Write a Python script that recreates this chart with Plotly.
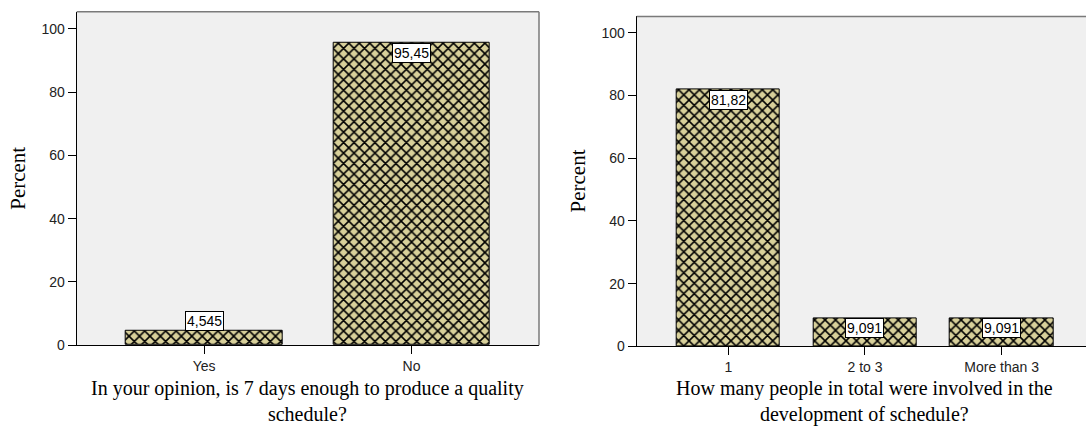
import plotly.graph_objects as go

# ---- data ----
q1_categories = ["Yes", "No"]
q1_percent = [4.545, 95.45]
q1_labels = ["4,545", "95,45"]
q1_title = "In your opinion, is 7 days enough to produce a quality<br>schedule?"

q2_categories = ["1", "2 to 3", "More than 3"]
q2_percent = [81.82, 9.091, 9.091]
q2_labels = ["81,82", "9,091", "9,091"]
q2_title = "How many people in total were involved in the<br>development of schedule?"

y_ticks = [0, 20, 40, 60, 80, 100]
y_title = "Percent"

# ---- styling ----
W, H = 1086, 434
SANS = "Liberation Sans, Arial, sans-serif"
SERIF = "Liberation Serif, Times New Roman, serif"
TAN = "#D8D09A"
PLOT_BG = "#F0F0F0"
BAR_W = 0.755

def px_x(p):
    return p / W

def px_y(p):
    return (H - p) / H

fig = go.Figure()

def add_bars(cats, vals, xa, ya):
    fig.add_trace(go.Bar(
        x=list(range(len(cats))), y=vals, width=BAR_W,
        xaxis=xa, yaxis=ya,
        marker=dict(color=TAN,
                    line=dict(color="black", width=1),
                    pattern=dict(shape="x", fgcolor="black", bgcolor=TAN,
                                 size=7.4, solidity=0.38, fillmode="replace")),
        hoverinfo="skip", showlegend=False))

add_bars(q1_categories, q1_percent, "x", "y")
add_bars(q2_categories, q2_percent, "x2", "y2")

axis_common = dict(showgrid=False, zeroline=False, showline=True, linecolor="black",
                   linewidth=1, ticks="outside", ticklen=8, tickcolor="black",
                   tickfont=dict(family=SANS, size=14, color="#222222"))

fig.update_layout(
    width=W, height=H,
    margin=dict(l=0, r=0, t=0, b=0),
    paper_bgcolor="white", plot_bgcolor=PLOT_BG,
    bargap=0,
    xaxis=dict(domain=[px_x(76.7), px_x(539)], range=[-0.615, 1.615],
               tickmode="array", tickvals=list(range(len(q1_categories))),
               ticktext=q1_categories, anchor="y", **axis_common),
    yaxis=dict(domain=[px_y(351.7), px_y(12)], range=[0, 105.37],
               tickmode="array", tickvals=y_ticks, anchor="x", **axis_common),
    xaxis2=dict(domain=[px_x(636.7), 1.0], range=[-0.67, 2.617],
                tickmode="array", tickvals=list(range(len(q2_categories))),
                ticktext=q2_categories, anchor="y2", **axis_common),
    yaxis2=dict(domain=[px_y(353), px_y(16.7)], range=[0, 105.2],
                tickmode="array", tickvals=y_ticks, anchor="x2", **axis_common),
)

# frame: top and right borders (gray)
shapes = [
    dict(type="line", xref="x domain", yref="y domain", x0=0, x1=1, y0=1, y1=1,
         line=dict(color="#7a7a7a", width=1.5)),
    dict(type="line", xref="x domain", yref="y domain", x0=1, x1=1, y0=0, y1=1,
         line=dict(color="#7a7a7a", width=1.5)),
    dict(type="line", xref="x2 domain", yref="y2 domain", x0=0, x1=1, y0=1, y1=1,
         line=dict(color="#7a7a7a", width=1.5)),
]
fig.update_layout(shapes=shapes)

annotations = []

def add_value_labels(vals, labels, xref, yref):
    for i, (v, t) in enumerate(zip(vals, labels)):
        inside = v > 6
        annotations.append(dict(
            x=i, y=v, xref=xref, yref=yref, text=t, showarrow=False,
            xanchor="center", yanchor="top" if inside else "bottom",
            bgcolor="white", bordercolor="black", borderwidth=1, borderpad=1,
            font=dict(family=SANS, size=14, color="black")))

add_value_labels(q1_percent, q1_labels, "x", "y")
add_value_labels(q2_percent, q2_labels, "x2", "y2")

# axis titles
annotations.append(dict(x=0.5, xref="x domain", y=px_y(409), yref="paper",
                        text=q1_title, showarrow=False, xanchor="center", yanchor="middle",
                        font=dict(family=SERIF, size=20, color="black")))
annotations.append(dict(x=1, xref="x2", y=px_y(409), yref="paper",
                        text=q2_title, showarrow=False, xanchor="center", yanchor="middle",
                        font=dict(family=SERIF, size=20, color="black")))
annotations.append(dict(x=px_x(18.3), xref="paper", y=0.5, yref="y domain",
                        text=y_title, textangle=-90, showarrow=False,
                        xanchor="center", yanchor="middle",
                        font=dict(family=SERIF, size=21, color="black")))
annotations.append(dict(x=px_x(578), xref="paper", y=0.5, yref="y2 domain",
                        text=y_title, textangle=-90, showarrow=False,
                        xanchor="center", yanchor="middle",
                        font=dict(family=SERIF, size=21, color="black")))

fig.update_layout(annotations=annotations)

fig.write_html("out.html",
               config={"displayModeBar": False},
               post_script="document.body.style.margin='0';document.body.style.overflow='hidden';")
